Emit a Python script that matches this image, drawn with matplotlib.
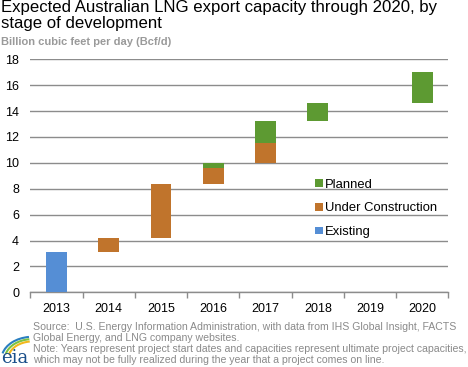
import numpy as np
import matplotlib
matplotlib.use("Agg")
import matplotlib.pyplot as plt
from matplotlib.patches import Arc

plt.rcParams['font.family'] = ['Liberation Sans', 'DejaVu Sans']

years = ["2013", "2014", "2015", "2016", "2017", "2018", "2019", "2020"]
# floating segments: each year starts where cumulative capacity stood
start_level = [0.0, 3.1, 4.2, 8.4, 10.0, 13.2, 14.6, 14.6]
existing = [3.1, 0, 0, 0, 0, 0, 0, 0]
under_construction = [0, 1.1, 4.2, 1.2, 1.5, 0, 0, 0]
planned = [0, 0, 0, 0.4, 1.7, 1.4, 0, 2.4]

c_exist = "#558ed5"
c_uc = "#c0742c"
c_plan = "#5d9a32"

fig = plt.figure(figsize=(4.68, 3.67), dpi=100)
ax = fig.add_axes([0.0647, 0.2035, 0.8936, 0.6349])

x = np.arange(len(years))
base = np.array(start_level)
ex = np.array(existing)
uc = np.array(under_construction)
pl = np.array(planned)
w = 0.4
ax.bar(x, ex, w, bottom=base, color=c_exist, label="Existing", zorder=3)
ax.bar(x, uc, w, bottom=base + ex, color=c_uc, label="Under Construction", zorder=3)
ax.bar(x, pl, w, bottom=base + ex + uc, color=c_plan, label="Planned", zorder=3)

ax.set_xlim(-0.5, len(years) - 0.5)
ax.set_ylim(0, 18)
ax.set_yticks(range(0, 19, 2))
ax.yaxis.grid(True, color="#8c8c8c", linewidth=1)
ax.set_axisbelow(True)
for s in ["left", "right", "top"]:
    ax.spines[s].set_visible(False)
ax.spines["bottom"].set_color("#8c8c8c")
ax.spines["bottom"].set_linewidth(1)
ax.tick_params(axis="y", length=0, labelsize=9, pad=8)
ax.set_xticks(x)
ax.set_xticklabels(years)
ax.tick_params(axis="x", which="major", length=0, labelsize=9, pad=8)
ax.set_xticks(np.arange(-0.5, len(years)), minor=True)
ax.tick_params(axis="x", which="minor", length=4, color="#8c8c8c", width=1)

h, l = ax.get_legend_handles_labels()
ax.legend(h[::-1], l[::-1], loc="upper left", bbox_to_anchor=(0.682, 0.488),
          frameon=False, fontsize=9.4, handlelength=0.55, handleheight=0.55,
          handletextpad=0.2, labelspacing=0.9, borderpad=0, borderaxespad=0)

fig.text(0.003, 0.999, "Expected Australian LNG export capacity through 2020, by\nstage of development",
         fontsize=12.1, va="top", ha="left", linespacing=1.02)
fig.text(0.003, 0.9, "Billion cubic feet per day (Bcf/d)", fontsize=8,
         fontweight="bold", color="#9a9a9a", va="top", ha="left")

gray = "#8a8a8a"
fig.text(0.07, 0.064, "Source:  U.S. Energy Information Administration, with data from IHS Global Insight, FACTS\n"
         "Global Energy, and LNG company websites.\n"
         "Note: Years represent project start dates and capacities represent ultimate project capacities,\n"
         "which may not be fully realized during the year that a project comes on line.",
         fontsize=7.6, color=gray, va="center", ha="left", linespacing=1.16)

# eia logo
lax = fig.add_axes([0.0, 0.0, 0.07, 0.09])
lax.set_xlim(0, 1)
lax.set_ylim(0, 1)
lax.axis("off")
for r, col in zip([0.95, 0.85, 0.75], ["#2a7fc0", "#7cc242", "#f2b81c"]):
    lax.add_patch(Arc((1.0, 0.25), 2 * r, 1.4 * r, theta1=100, theta2=170, color=col, lw=1.5))
lax.text(0.45, 0.0, "eia", fontsize=13, family="DejaVu Serif", color="#1a4f8a", ha="center", va="bottom")

fig.savefig("out.png", dpi=100)
